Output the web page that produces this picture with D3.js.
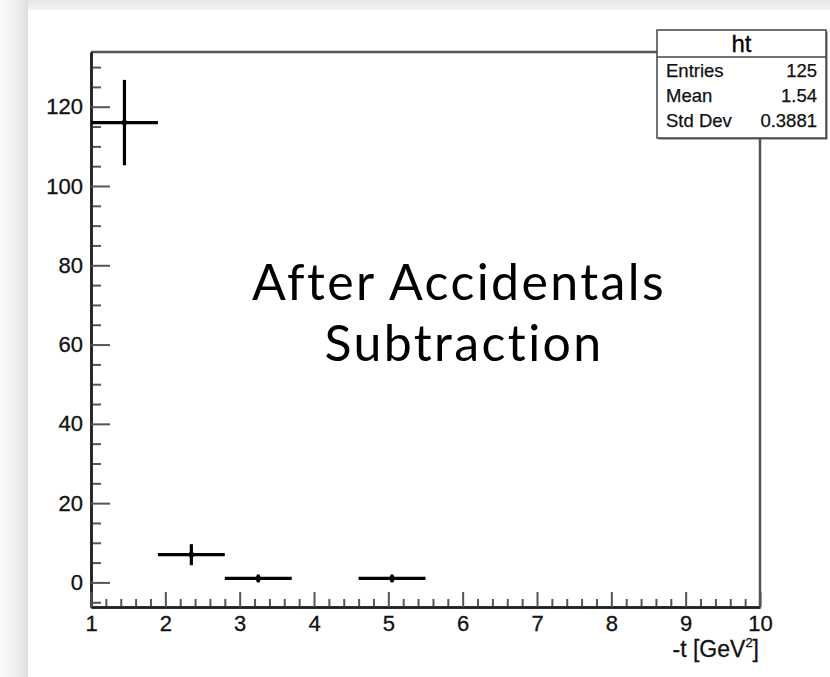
<!DOCTYPE html>
<html>
<head>
<meta charset="utf-8">
<script src="https://cdn.jsdelivr.net/npm/d3@7/dist/d3.min.js"></script>
<style>
  html, body { margin: 0; padding: 0; background: #fff; overflow: hidden; }
  svg { display: block; }
</style>
</head>
<body>
<svg id="chart" width="830" height="677"></svg>
<script>
// Histogram "ht": 10 bins of -t between 1 and 10 GeV^2
const binEdges = [1, 1.9, 2.8, 3.7, 4.6, 5.5, 6.4, 7.3, 8.2, 9.1, 10];
const binCounts = [116, 7, 1, 0, 1, 0, 0, 0, 0, 0];
const binErrors = [10.77, 2.65, 1, 0, 1, 0, 0, 0, 0, 0];

const xTickValues = [1, 2, 3, 4, 5, 6, 7, 8, 9, 10];
const yTickValues = [0, 20, 40, 60, 80, 100, 120];

const statsTitle = "ht";
const statsNames = ["Entries", "Mean", "Std Dev"];
const statsValues = ["125", "1.54", "0.3881"];

const noteLines = ["After Accidentals", "Subtraction"];

const W = 830, H = 677;
const frame = { left: 91, right: 760, top: 52, bottom: 607 };
const fontFam = '"Liberation Sans", Arial, Helvetica, sans-serif';

const svg = d3.select("#chart");
const defs = svg.append("defs");

// canvas shadow bands (left and top)
const gl = defs.append("linearGradient").attr("id", "shadeLeft").attr("x1", 0).attr("x2", 1).attr("y1", 0).attr("y2", 0);
gl.append("stop").attr("offset", "0%").attr("stop-color", "#fbfbfb");
gl.append("stop").attr("offset", "60%").attr("stop-color", "#eeeeee");
gl.append("stop").attr("offset", "100%").attr("stop-color", "#dedede");
const gt = defs.append("linearGradient").attr("id", "shadeTop").attr("x1", 0).attr("x2", 0).attr("y1", 0).attr("y2", 1);
gt.append("stop").attr("offset", "0%").attr("stop-color", "#e6e6e6");
gt.append("stop").attr("offset", "100%").attr("stop-color", "#f3f3f3");

svg.append("rect").attr("width", W).attr("height", H).attr("fill", "#fff");
svg.append("rect").attr("x", 0).attr("y", 0).attr("width", W).attr("height", 10).attr("fill", "url(#shadeTop)");
svg.append("rect").attr("x", 0).attr("y", 0).attr("width", 28).attr("height", H).attr("fill", "url(#shadeLeft)");

const x = d3.scaleLinear().domain([1, 10]).range([frame.left, frame.right]);
const y = d3.scaleLinear().domain([-6.2, 133.8]).range([frame.bottom, frame.top]);

// frame top and right edges
svg.append("path")
  .attr("d", `M${frame.left},${frame.top}H${frame.right}V${frame.bottom}`)
  .attr("fill", "none").attr("stroke", "#555").attr("stroke-width", 2.5);

// minor ticks
const yMinor = d3.range(-5, 134, 5).filter(v => v % 20 !== 0);
const xMinor = d3.range(10, 100, 2).map(v => v / 10).filter(v => !Number.isInteger(v));

const yMinorAxis = svg.append("g").attr("transform", `translate(${frame.left},0)`)
  .call(d3.axisLeft(y).tickValues(yMinor).tickSize(-10).tickSizeOuter(0).tickFormat(""));
const xMinorAxis = svg.append("g").attr("transform", `translate(0,${frame.bottom})`)
  .call(d3.axisBottom(x).tickValues(xMinor).tickSize(-8).tickSizeOuter(0).tickFormat(""));

const yAxis = svg.append("g").attr("transform", `translate(${frame.left},0)`)
  .call(d3.axisLeft(y).tickValues(yTickValues).tickSize(-19).tickSizeOuter(0).tickPadding(8));
const xAxis = svg.append("g").attr("transform", `translate(0,${frame.bottom})`)
  .call(d3.axisBottom(x).tickValues(xTickValues).tickSize(-15).tickSizeOuter(0).tickPadding(8));

[yMinorAxis, xMinorAxis, yAxis, xAxis].forEach(g => {
  g.selectAll(".tick line").attr("stroke", "#555").attr("stroke-width", 2);
  g.select(".domain").attr("stroke", "#222").attr("stroke-width", 2.5);
  g.selectAll("text").attr("font-size", 22).attr("fill", "#111").attr("font-family", fontFam)
    .attr("stroke", "#111").attr("stroke-width", 0.3);
});

// x axis title
const xt = svg.append("text")
  .attr("x", frame.right - 1).attr("y", 657)
  .attr("text-anchor", "end").attr("font-family", fontFam).attr("font-size", 23).attr("fill", "#111")
  .attr("stroke", "#111").attr("stroke-width", 0.3);
xt.append("tspan").text("-t [GeV");
xt.append("tspan").attr("font-size", 13).attr("dy", -10).text("2");
xt.append("tspan").attr("dy", 10).text("]");

// histogram points with error bars
const bins = binCounts.map((c, i) => ({
  lo: binEdges[i], hi: binEdges[i + 1], mid: (binEdges[i] + binEdges[i + 1]) / 2, count: c, err: binErrors[i]
})).filter(b => b.count > 0);

const pts = svg.append("g");
pts.selectAll("line.h").data(bins).join("line").attr("class", "h")
  .attr("x1", d => x(d.lo)).attr("x2", d => x(d.hi))
  .attr("y1", d => y(d.count)).attr("y2", d => y(d.count))
  .attr("stroke", "#000").attr("stroke-width", 3.2);
pts.selectAll("line.v").data(bins).join("line").attr("class", "v")
  .attr("x1", d => x(d.mid)).attr("x2", d => x(d.mid))
  .attr("y1", d => y(d.count + d.err)).attr("y2", d => y(d.count - d.err))
  .attr("stroke", "#000").attr("stroke-width", 3.2);
pts.selectAll("circle").data(bins).join("circle")
  .attr("cx", d => x(d.mid)).attr("cy", d => y(d.count)).attr("r", 2.8).attr("fill", "#000");

// annotation
svg.append("text")
  .attr("text-anchor", "middle").attr("font-family", "Lato, 'Noto Sans', sans-serif")
  .attr("font-size", 50).attr("letter-spacing", 2.4).attr("fill", "#000")
  .selectAll("tspan").data(noteLines).join("tspan")
  .attr("x", (d, i) => i === 0 ? 459 : 464).attr("y", (d, i) => 300 + i * 61).text(d => d);

// statistics box
const box = { x: 657, y: 30, w: 169, h: 108, titleH: 27 };
svg.append("rect").attr("x", box.x + 1.5).attr("y", box.y + 1.5).attr("width", box.w).attr("height", box.h)
  .attr("fill", "#666");
svg.append("rect").attr("x", box.x).attr("y", box.y).attr("width", box.w).attr("height", box.h)
  .attr("fill", "#fff").attr("stroke", "#444").attr("stroke-width", 1.5);
svg.append("line").attr("x1", box.x).attr("x2", box.x + box.w)
  .attr("y1", box.y + box.titleH).attr("y2", box.y + box.titleH)
  .attr("stroke", "#444").attr("stroke-width", 1.5);
svg.append("text").attr("x", box.x + box.w / 2).attr("y", box.y + 22)
  .attr("text-anchor", "middle").attr("font-family", fontFam).attr("font-size", 24).attr("fill", "#000")
  .attr("stroke", "#000").attr("stroke-width", 0.3)
  .text(statsTitle);
const rows = svg.append("g").attr("font-family", fontFam).attr("font-size", 18.5).attr("fill", "#111")
  .attr("stroke", "#111").attr("stroke-width", 0.25);
rows.selectAll("text.n").data(statsNames).join("text").attr("class", "n")
  .attr("x", box.x + 9).attr("y", (d, i) => 77 + i * 25).text(d => d);
rows.selectAll("text.v").data(statsValues).join("text").attr("class", "v")
  .attr("x", box.x + box.w - 9).attr("y", (d, i) => 77 + i * 25).attr("text-anchor", "end").text(d => d);
</script>
</body>
</html>
